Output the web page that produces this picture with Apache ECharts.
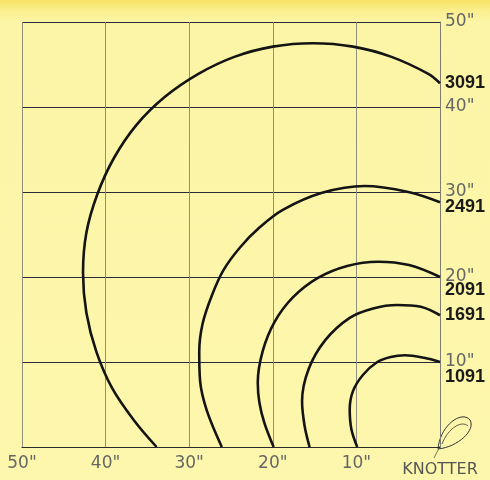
<!DOCTYPE html>
<html>
<head>
<meta charset="utf-8">
<script src="https://cdn.jsdelivr.net/npm/echarts@6/dist/echarts.min.js"></script>
<style>
  html, body { margin: 0; padding: 0; }
  body {
    width: 490px; height: 480px; overflow: hidden;
    background: linear-gradient(#f7e262 0px, #fbee8c 10px, #fcf5a6 22px, #fdf7ad 100%);
  }
  #chart { width: 490px; height: 480px; }
</style>
</head>
<body>
<div id="chart"></div>
<script>
// distances (inches) on the horizontal axis, read right-to-left
var xTicks = [0, 10, 20, 30, 40, 50];
var yTicks = [0, 10, 20, 30, 40, 50];
var seriesNames = ['3091', '2491', '2091', '1691', '1091'];

// each curve: [horizontal distance, height] points, from the floor round to the wall
var curve3091 = [[33.9,0],[36.5,3.0],[39.2,6.9],[41.1,11.2],[42.3,15.8],[42.7,20.5],[42.3,25.2],[41.0,29.7],[39.0,34.0],[36.3,37.9],[32.9,41.2],[28.9,43.9],[24.6,45.9],[20.0,47.1],[15.2,47.5],[10.4,47.1],[5.8,45.9],[1.4,43.9],[0,42.8]];
var curve2491 = [[26.1,0],[27.9,4.3],[28.7,7.8],[28.8,11.2],[28.4,14.5],[27.3,17.8],[25.9,20.8],[23.9,23.5],[21.5,25.9],[18.8,27.9],[14.1,29.9],[9.0,30.7],[3.8,30.0],[0,28.8]];
var curve2091 = [[19.9,0],[21.0,2.8],[21.6,5.2],[21.8,7.6],[21.2,11.3],[19.8,14.7],[17.6,17.6],[14.6,19.9],[11.1,21.3],[7.4,21.8],[3.7,21.4],[0,20.0]];
var curve1691 = [[15.6,0],[16.2,2.5],[16.5,5.4],[15.7,9.2],[13.7,12.6],[10.8,15.2],[8.0,16.3],[5.1,16.7],[2.3,16.5],[0,15.5]];
var curve1091 = [[9.9,0],[10.6,2.1],[10.8,4.4],[10.4,6.6],[9.2,8.5],[7.5,10.0],[5.9,10.6],[4.2,10.8],[1.9,10.5],[0,10.0]];

var curves = [curve3091, curve2491, curve2091, curve1691, curve1091];
var labelOffsets = [0, 5, 13, 0, 15];

var chart = echarts.init(document.getElementById('chart'));

var series = curves.map(function (pts, i) {
  var data = pts.map(function (p, j) {
    if (j === pts.length - 1) {
      return {
        value: p,
        label: {
          show: true, position: 'right', distance: 5,
          offset: [0, labelOffsets[i]],
          formatter: seriesNames[i],
          fontFamily: 'Liberation Sans', fontWeight: 'bold',
          fontSize: 18, color: '#1a1a1a'
        }
      };
    }
    return p;
  });
  return {
    name: seriesNames[i], type: 'line', data: data,
    smooth: 0.35, symbol: 'circle', symbolSize: 0, showSymbol: true,
    itemStyle: { color: '#141414' },
    lineStyle: { color: '#141414', width: 2.6 },
    z: 5, silent: true, animation: false
  };
});

var option = {
  animation: false,
  backgroundColor: 'transparent',
  grid: { left: 22, right: 50, top: 22, bottom: 33, containLabel: false, outerBoundsMode: 'none' },
  xAxis: {
    type: 'value', min: 0, max: 50, interval: 10, inverse: true,
    axisLine: { show: true, lineStyle: { color: '#2a2a2a', width: 1.2 } },
    axisTick: { show: false },
    splitLine: { show: true, lineStyle: { color: '#85857a', width: 0.9 } },
    axisLabel: {
      margin: 8,
      color: '#666',
      fontFamily: 'DejaVu Sans', fontSize: 17,
      formatter: function (v) {
        return v === 0 ? '{k|KNOTTER}' : v + '"';
      },
      rich: { k: { fontFamily: 'DejaVu Sans', fontSize: 16, color: '#555', padding: [7, 0, 0, 0] } }
    }
  },
  yAxis: {
    type: 'value', min: 0, max: 50, interval: 10, position: 'right',
    axisLine: { show: true, lineStyle: { color: '#7a7a70', width: 0.9 } },
    axisTick: { show: false },
    splitLine: { show: true, lineStyle: { color: '#2a2a3a', width: 1.2 } },
    axisLabel: {
      margin: 5,
      color: '#666',
      fontFamily: 'DejaVu Sans', fontSize: 17,
      formatter: function (v) { return v === 0 ? '' : v + '"'; }
    }
  },
  graphic: [
    { type: 'bezierCurve', shape: { x1: 438, y1: 449, x2: 470, y2: 420, cpx1: 440, cpy1: 425, cpx2: 462, cpy2: 410 }, style: { stroke: '#333', lineWidth: 1, fill: null } },
    { type: 'bezierCurve', shape: { x1: 438, y1: 449, x2: 470, y2: 420, cpx1: 458, cpy1: 447, cpx2: 476, cpy2: 430 }, style: { stroke: '#333', lineWidth: 1, fill: null } },
    { type: 'bezierCurve', shape: { x1: 442, y1: 444, x2: 468, y2: 426, cpx1: 448, cpy1: 428, cpx2: 462, cpy2: 420 }, style: { stroke: '#333', lineWidth: 0.8, fill: null } },
    { type: 'line', shape: { x1: 440, y1: 446, x2: 434, y2: 458 }, style: { stroke: '#555', lineWidth: 0.8 } }
  ],
  series: series
};

chart.setOption(option);
</script>
</body>
</html>
